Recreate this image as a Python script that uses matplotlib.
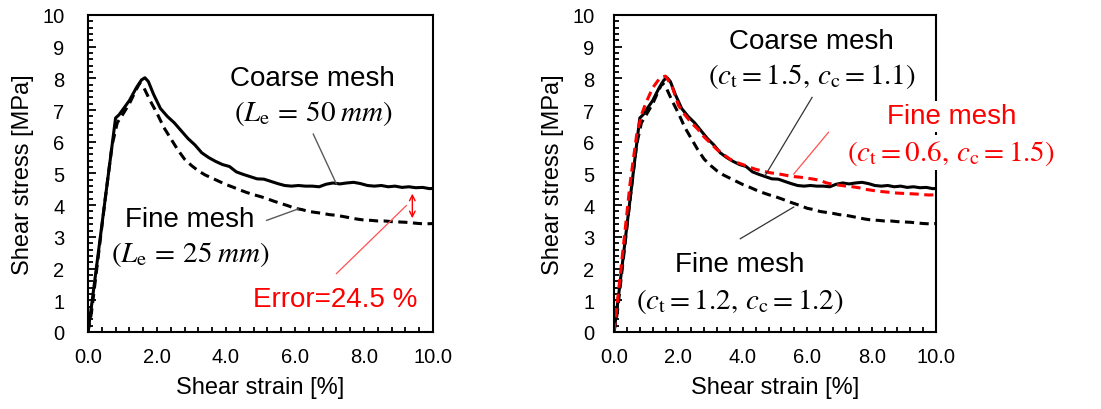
import matplotlib
matplotlib.use("Agg")
import matplotlib.pyplot as plt
from matplotlib.ticker import MultipleLocator, FormatStrFormatter

plt.rcParams['font.family'] = ['Liberation Sans', 'DejaVu Sans']
plt.rcParams['mathtext.fontset'] = 'stix'

# coarse mesh (Le = 50 mm, ct = 1.5, cc = 1.1)
coarse_strain = [0.0, 0.1, 0.3, 0.5, 0.7, 0.8, 0.9, 1.0, 1.2, 1.4, 1.55, 1.65, 1.75, 1.9,
                 2.1, 2.3, 2.5, 2.7, 2.9, 3.1, 3.3, 3.5, 3.7, 3.9, 4.1, 4.3, 4.5, 4.7, 4.9,
                 5.1, 5.3, 5.5, 5.7, 5.9, 6.1, 6.3, 6.5, 6.7, 6.9, 7.1, 7.3, 7.5, 7.7, 7.9,
                 8.1, 8.3, 8.5, 8.7, 8.9, 9.1, 9.3, 9.5, 9.7, 9.9, 10.0]
coarse_stress = [0.0, 0.8, 2.5, 4.2, 5.9, 6.75, 6.85, 7.0, 7.3, 7.7, 7.95, 8.02, 7.9, 7.5,
                 7.05, 6.8, 6.6, 6.35, 6.1, 5.9, 5.65, 5.5, 5.38, 5.28, 5.22, 5.05, 4.97, 4.9, 4.83,
                 4.82, 4.75, 4.68, 4.62, 4.6, 4.62, 4.6, 4.6, 4.58, 4.66, 4.7, 4.67, 4.7, 4.72, 4.68,
                 4.62, 4.6, 4.62, 4.58, 4.6, 4.56, 4.58, 4.55, 4.56, 4.52, 4.53]

# fine mesh (Le = 25 mm, ct = 1.2, cc = 1.2)
fine_strain = [0.0, 0.1, 0.3, 0.5, 0.7, 0.85, 1.0, 1.2, 1.4, 1.5, 1.6, 1.8, 2.0, 2.2, 2.4,
               2.6, 2.8, 3.0, 3.2, 3.4, 3.6, 3.8, 4.0, 4.2, 4.4, 4.6, 4.8, 5.0, 5.2, 5.4,
               5.6, 5.8, 6.0, 6.2, 6.4, 6.6, 6.8, 7.0, 7.2, 7.4, 7.6, 7.8, 8.0, 8.2, 8.4,
               8.6, 8.8, 9.0, 9.2, 9.4, 9.6, 9.8, 10.0]
fine_stress = [0.0, 0.6, 2.4, 4.2, 5.9, 6.6, 6.85, 7.2, 7.65, 7.85, 7.75, 7.3, 6.9, 6.45, 6.1,
               5.75, 5.45, 5.25, 5.08, 4.95, 4.85, 4.75, 4.65, 4.57, 4.48, 4.4, 4.33, 4.27, 4.2, 4.12,
               4.05, 3.98, 3.9, 3.86, 3.8, 3.77, 3.74, 3.7, 3.68, 3.64, 3.6, 3.56, 3.53, 3.52, 3.5,
               3.5, 3.48, 3.47, 3.46, 3.44, 3.42, 3.41, 3.42]

# fine mesh recalibrated (ct = 0.6, cc = 1.5)
fine2_strain = fine_strain[:]
fine2_stress = [0.0, 0.9, 2.8, 4.7, 6.2, 6.85, 7.25, 7.7, 7.98, 8.05, 8.07, 7.75, 7.15, 6.85, 6.6,
                6.4, 6.15, 5.95, 5.75, 5.6, 5.45, 5.35, 5.28, 5.2, 5.13, 5.08, 5.03, 5.0, 4.97, 4.93,
                4.9, 4.88, 4.85, 4.82, 4.78, 4.7, 4.66, 4.63, 4.6, 4.58, 4.55, 4.5, 4.47, 4.44, 4.42,
                4.4, 4.38, 4.37, 4.36, 4.35, 4.33, 4.32, 4.33]

fig = plt.figure(figsize=(11.01, 4.10), dpi=100)
ax1 = fig.add_axes([0.0799, 0.188, 0.3134, 0.773])
ax2 = fig.add_axes([0.5577, 0.188, 0.2925, 0.773])


def style(ax, ypad):
    ax.set_xlim(0, 10)
    ax.set_ylim(0, 10)
    ax.xaxis.set_major_locator(MultipleLocator(2))
    ax.xaxis.set_minor_locator(MultipleLocator(0.4))
    ax.yaxis.set_major_locator(MultipleLocator(1))
    ax.yaxis.set_minor_locator(MultipleLocator(0.2))
    ax.xaxis.set_major_formatter(FormatStrFormatter('%.1f'))
    ax.tick_params(axis='both', which='both', direction='in', width=1.3, labelsize=14.5)
    ax.tick_params(axis='y', which='major', length=6, pad=ypad)
    ax.tick_params(axis='y', which='minor', length=3.5)
    ax.tick_params(axis='x', which='both', length=3.5, pad=11)
    for s in ax.spines.values():
        s.set_linewidth(1.5)
    ax.set_xlabel('Shear strain [%]', fontsize=17)
    ax.set_ylabel('Shear stress [MPa]', fontsize=17)
    ax.xaxis.set_label_coords(0.5, -0.14)
    ax.yaxis.set_label_coords(-0.156, 0.5)


style(ax1, 17)
style(ax2, 14)

# left panel
ax1.plot(coarse_strain, coarse_stress, color='black', lw=2.2)
ax1.plot(fine_strain, fine_stress, color='black', lw=2.2, ls=(0, (3, 1.8)))
ax1.text(6.5, 8.0, 'Coarse mesh', fontsize=20, ha='center', va='center')
ax1.text(6.53, 6.93, r'$(L_{\mathrm{e}}\,=\,50\;mm)$', fontsize=21, ha='center', va='center')
ax1.plot([6.53, 7.2], [6.24, 4.67], color='#595959', lw=1)
ax1.text(2.95, 3.57, 'Fine mesh', fontsize=20, ha='center', va='center')
ax1.text(2.96, 2.47, r'$(L_{\mathrm{e}}\,=\,25\;mm)$', fontsize=21, ha='center', va='center')
ax1.plot([5.18, 6.09], [3.52, 3.88], color='#595959', lw=1)
ax1.annotate('', xy=(9.4, 4.45), xytext=(9.4, 3.5),
             arrowprops=dict(arrowstyle='<->', color='red', lw=1))
ax1.plot([7.2, 9.23], [1.84, 3.99], color='#ff5050', lw=0.9)
ax1.text(7.16, 1.05, 'Error=24.5 %', fontsize=20, color='red', ha='center', va='center')

# right panel
ax2.plot(coarse_strain, coarse_stress, color='black', lw=2.2)
ax2.plot(fine_strain, fine_stress, color='black', lw=2.2, ls=(0, (3, 1.8)))
ax2.plot(fine2_strain, fine2_stress, color='red', lw=2.2, ls=(0, (3, 1.8)))
ax2.text(6.13, 9.18, 'Coarse mesh', fontsize=20, ha='center', va='center')
ax2.text(6.15, 8.08, r'$(c_{\mathrm{t}}=1.5,\,c_{\mathrm{c}}=1.1)$', fontsize=21,
         ha='center', va='center')
ax2.plot([6.15, 4.69], [7.4, 4.93], color='#333333', lw=0.9)
ax2.text(10.47, 6.8, 'Fine mesh', fontsize=20, color='red', ha='center', va='center',
         clip_on=False, zorder=5,
         bbox=dict(facecolor='white', edgecolor='none', pad=2))
ax2.text(10.47, 5.67, r'$(c_{\mathrm{t}}=0.6,\,c_{\mathrm{c}}=1.5)$', fontsize=21, color='red',
         ha='center', va='center', clip_on=False, zorder=5,
         bbox=dict(facecolor='white', edgecolor='none', pad=2))
ax2.plot([6.66, 5.58], [6.3, 4.98], color='#ff5050', lw=0.9)
ax2.text(3.91, 2.15, 'Fine mesh', fontsize=20, ha='center', va='center')
ax2.text(3.92, 1.0, r'$(c_{\mathrm{t}}=1.2,\,c_{\mathrm{c}}=1.2)$', fontsize=21,
         ha='center', va='center')
ax2.plot([3.92, 5.58], [2.94, 3.94], color='#333333', lw=0.9)

fig.savefig('out.png', dpi=100)
